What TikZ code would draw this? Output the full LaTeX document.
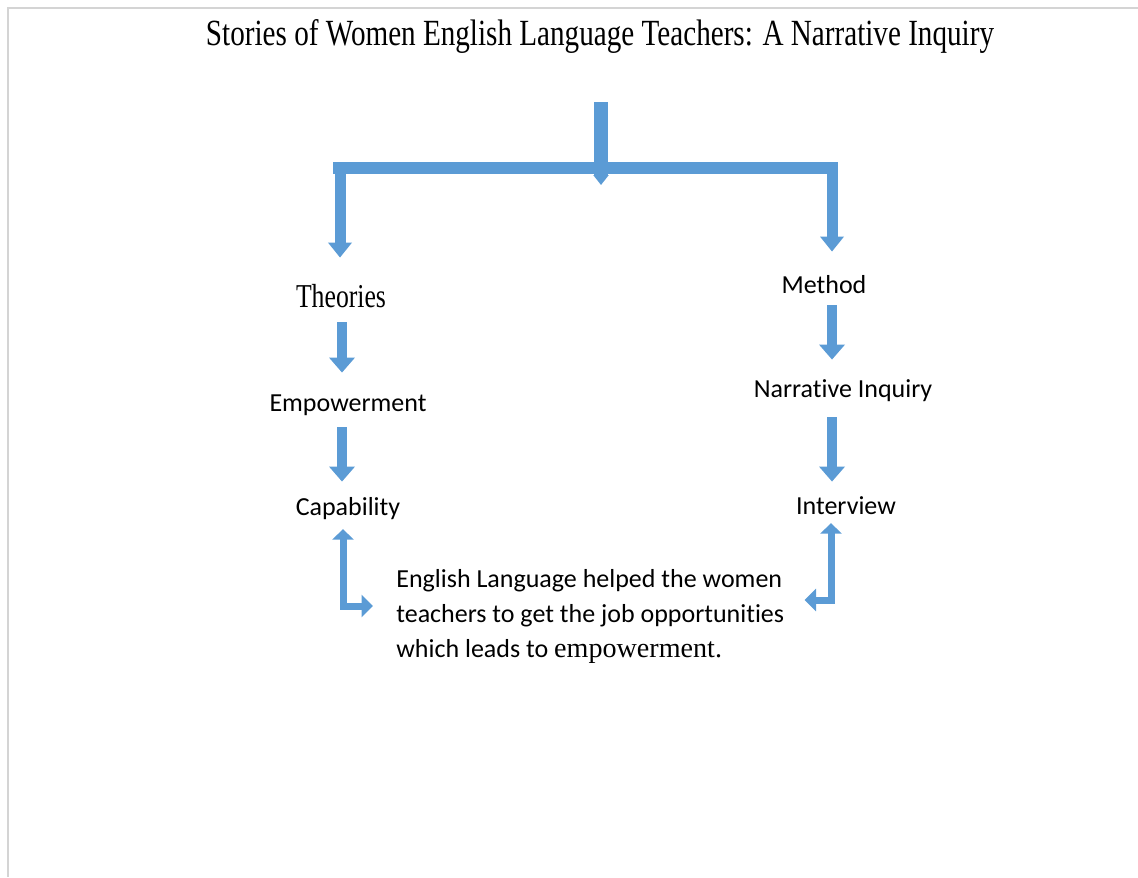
\documentclass[tikz,border=0pt]{standalone}
\usepackage{fontspec}
\setmainfont{Liberation Serif}
\newfontfamily\calibfont[Ligatures=NoCommon]{Carlito}
\usepackage{graphicx}
\usepackage{xcolor}
\usetikzlibrary{arrows.meta}
\definecolor{arrowblue}{HTML}{5B9BD5}
\definecolor{framegray}{HTML}{D4D4D4}

\begin{document}
\begin{tikzpicture}[x=0.02cm,y=-0.02cm,
	lbl/.style={inner sep=0pt, anchor=base, text height=10pt, text depth=3pt, font=\calibfont\fontsize{14.8}{17}\selectfont},
	serif/.style={lbl, font=\fontsize{19}{22}\selectfont},
	note/.style={inner sep=0pt, align=left, anchor=north west, font=\calibfont\fontsize{14.8}{20}\selectfont},
	blk/.style={draw=arrowblue, line width=0.2cm, -{Triangle[width=0.5cm,length=0.3cm]}},
	drop/.style={draw=arrowblue, line width=0.22cm, -{Triangle[width=0.46cm,length=0.3cm]}},
	stemarrow/.style={draw=arrowblue, line width=0.28cm, -{Triangle[width=0.3cm,length=0.2cm]}},
	bar/.style={draw=arrowblue, line width=0.24cm},
	elb/.style={draw=arrowblue, line width=0.14cm, {Triangle[width=0.42cm,length=0.21cm]}-{Triangle[width=0.44cm,length=0.23cm]}}]
	
		\useasboundingbox (0,0) rectangle (1138,877);
		\draw[framegray, line width=0.04cm] (1138,8) -- (8,8) -- (8,877);
		
		\node[lbl, font=\fontsize{21}{24}\selectfont] (title) at (600,45) {\scalebox{0.79}[1]{Stories of Women English Language Teachers: A Narrative Inquiry}};
		
		\node[serif] (theo) at (341,307) {\scalebox{0.77}[1]{Theories}};
		\node[lbl] (emp)  at (348,411) {Empowerment};
		\node[lbl] (capa) at (348,515) {Capability};
		\node[lbl] (meth) at (824,293) {Method};
		\node[lbl] (narr) at (843,397) {Narrative Inquiry};
		\node[lbl] (intv) at (846,514) {Interview};
		\node[note] (note) at (396,569) {English Language helped the women\\teachers to get the job opportunities\\which leads to {\rmfamily\fontsize{16}{20}\selectfont empowerment.}};
		
		\coordinate (stem)  at (601,102);
		\coordinate (hub)   at (601,185);
		\coordinate (lbar)  at (333,168);
		\coordinate (rbar)  at (838,168);
		\coordinate (ldrop) at (340,163);
		\coordinate (rdrop) at (832,163);
		\coordinate (lx)    at (342,322);
		\coordinate (rx)    at (832,305);
		\coordinate (lbend) at (343,606);
		\coordinate (rbend) at (831,600);
		
		\draw[stemarrow] (stem) -- (hub);
		\draw[bar] (lbar) -- (rbar);
		\draw[drop, shorten >=0.63cm] (ldrop) -- (ldrop |- theo.north);
		\draw[drop, shorten >=0.47cm] (rdrop) -- (rdrop |- meth.north);
		
		\draw[blk, shorten <=0.19cm, shorten >=0.41cm] (theo.south -| lx) -- (emp.north -| lx);
		\draw[blk, shorten <=0.21cm, shorten >=0.31cm] (emp.south -| lx) -- (capa.north -| lx);
		\draw[blk, shorten <=0.13cm, shorten >=0.39cm] (meth.south -| rx) -- (narr.north -| rx);
		\draw[blk, shorten <=0.29cm, shorten >=0.29cm] (narr.south -| rx) -- (intv.north -| rx);
		
		\draw[elb, shorten <=0.17cm, shorten >=0.46cm] (capa.south -| lbend) -- (lbend) -- (note.west |- lbend);
		\draw[elb, shorten <=0.07cm, shorten >=0.4cm] (intv.south -| rbend) -- (rbend) -- (note.east |- rbend);
\end{tikzpicture}
\end{document}
